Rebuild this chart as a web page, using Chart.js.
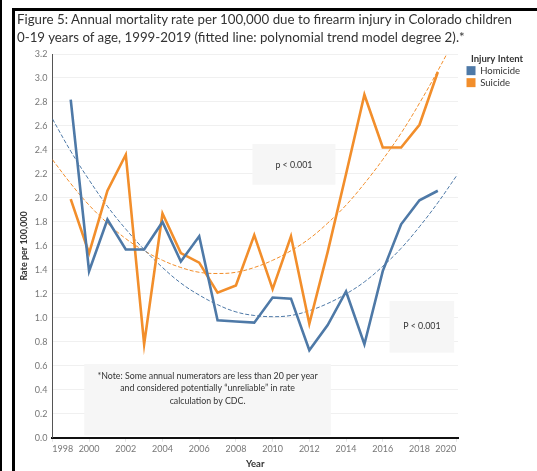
<!DOCTYPE html>
<html>
<head>
<meta charset="utf-8">
<script src="https://cdn.jsdelivr.net/npm/chart.js@4/dist/chart.umd.min.js"></script>
<style>
  body { margin: 0; background: #fff; }
  #wrap { position: relative; width: 537px; height: 471px; overflow: hidden; }
  #chart { position: absolute; left: 0; top: 0; }
  #edge { position: absolute; left: 0; top: 0; width: 2px; height: 471px; background: #000; }
  #frame { position: absolute; left: 12px; top: 8px; width: 540px; height: 480px;
           border-top: 3px solid #000; border-left: 3px solid #000; }
  #title { position: absolute; left: 17px; top: 11px; font: 13.3px Lato, sans-serif;
           color: #333; line-height: 17.5px; white-space: nowrap; }
</style>
</head>
<body>
<div id="wrap">
  <canvas id="chart" width="537" height="471"></canvas>
  <div id="edge"></div>
  <div id="frame"></div>
  <div id="title">Figure 5: Annual mortality rate per 100,000 due to firearm injury in Colorado children<br>0-19 years of age, 1999-2019 (fitted line: polynomial trend model degree 2).*</div>
</div>
<script>
// annual rates per 100,000
const years = [1999, 2000, 2001, 2002, 2003, 2004, 2005, 2006, 2007, 2008, 2009,
               2010, 2011, 2012, 2013, 2014, 2015, 2016, 2017, 2018, 2019];
const homicide = [2.82, 1.39, 1.82, 1.57, 1.57, 1.80, 1.47, 1.68, 0.98, 0.97, 0.96,
                  1.17, 1.16, 0.73, 0.94, 1.22, 0.78, 1.39, 1.78, 1.98, 2.06];
const suicide = [1.99, 1.54, 2.06, 2.36, 0.78, 1.87, 1.54, 1.46, 1.21, 1.27, 1.69,
                 1.24, 1.68, 0.95, 1.55, 2.20, 2.86, 2.42, 2.42, 2.61, 3.05];

// fitted trend lines
const trendYears = [1998, 1999, 2000, 2001, 2002, 2003, 2004, 2005, 2006, 2007, 2008, 2009,
                    2010, 2011, 2012, 2013, 2014, 2015, 2016, 2017, 2018, 2019, 2020];
const homicideTrend = [2.66, 2.39, 2.15, 1.93, 1.74, 1.57, 1.42, 1.29, 1.19, 1.11, 1.05, 1.02,
                       1.01, 1.02, 1.06, 1.12, 1.20, 1.30, 1.43, 1.58, 1.76, 1.96, 2.18];
const suicideTrend = [2.32, 2.12, 1.94, 1.79, 1.66, 1.56, 1.48, 1.42, 1.38, 1.37, 1.38, 1.42,
                      1.48, 1.56, 1.66, 1.79, 1.94, 2.12, 2.32, 2.54, 2.79, 3.06, 3.35];

const xTicks = [1998, 2000, 2002, 2004, 2006, 2008, 2010, 2012, 2014, 2016, 2018, 2020];
const yTicks = [0, 0.2, 0.4, 0.6, 0.8, 1.0, 1.2, 1.4, 1.6, 1.8, 2.0, 2.2, 2.4, 2.6, 2.8, 3.0, 3.2];

const labels = ['Homicide', 'Suicide'];
const blue = '#4e79a7';
const orange = '#f28e2b';

function pts(xs, ys) {
    return xs.map((x, i) => ({ x: x, y: ys[i] }));
}

// grey text boxes placed in data units
const notes = [
    { x0: 2008.9, x1: 2013.42, y0: 2.45, y1: 2.11, ty: 2.27, lines: ['p < 0.001'] },
    { x0: 2016.37, x1: 2019.89, y0: 1.14, y1: 0.71, ty: 0.93, lines: ['P < 0.001'] },
    { x0: 1999.74, x1: 2013.17, y0: 0.616, y1: 0.02, ty: 0.41,
      lines: ['*Note: Some annual numerators are less than 20 per year',
              'and considered potentially \u201cunreliable\u201d in rate',
              'calculation by CDC.'] }
];

const notesPlugin = {
    id: 'notes',
    afterLayout(chart) {
        // nudge the legend a little to the right, like the original
        chart.legend.left += 6;
        chart.legend.right += 6;
    },
    beforeDatasetsDraw(chart) {
        const ctx = chart.ctx;
        const x = chart.scales.x, y = chart.scales.y;
        ctx.save();
        notes.forEach(n => {
            const l = x.getPixelForValue(n.x0), r = x.getPixelForValue(n.x1);
            const t = y.getPixelForValue(n.y0), b = y.getPixelForValue(n.y1);
            ctx.fillStyle = '#f6f6f6';
            ctx.fillRect(l, t, r - l, b - t);
            ctx.fillStyle = '#333';
            ctx.font = '8.8px Lato, sans-serif';
            ctx.textAlign = 'center';
            ctx.textBaseline = 'middle';
            const cy = y.getPixelForValue(n.ty);
            const start = cy - (n.lines.length - 1) * 12.5 / 2;
            n.lines.forEach((s, i) => ctx.fillText(s, (l + r) / 2, start + i * 12.5));
        });
        ctx.restore();
    }
};

new Chart(document.getElementById('chart').getContext('2d'), {
    type: 'line',
    data: {
        datasets: [
            { label: labels[0], data: pts(years, homicide), borderColor: blue, backgroundColor: blue,
              borderWidth: 2.6, pointRadius: 0, tension: 0 },
            { label: labels[1], data: pts(years, suicide), borderColor: orange, backgroundColor: orange,
              borderWidth: 2.6, pointRadius: 0, tension: 0 },
            { label: 'Homicide trend', data: pts(trendYears, homicideTrend), borderColor: blue,
              borderWidth: 1, borderDash: [4, 2], pointRadius: 0, tension: 0.4 },
            { label: 'Suicide trend', data: pts(trendYears, suicideTrend), borderColor: orange,
              borderWidth: 1, borderDash: [4, 2], pointRadius: 0, tension: 0.4 }
        ]
    },
    options: {
        responsive: false,
        animation: false,
        devicePixelRatio: 1,
        layout: { padding: { left: 19, right: 13, top: 54, bottom: 1 } },
        plugins: {
            tooltip: { enabled: false },
            legend: {
                position: 'right',
                align: 'start',
                title: { display: true, text: 'Injury Intent', color: '#333',
                         font: { family: 'Lato', size: 9.5, weight: 'bold' }, padding: { top: 0, bottom: -2 } },
                labels: {
                    color: '#333',
                    font: { family: 'Lato', size: 9.5, lineHeight: 1 },
                    boxWidth: 9,
                    boxHeight: 9,
                    padding: 2.5,
                    generateLabels(chart) {
                        return Chart.defaults.plugins.legend.labels.generateLabels(chart)
                            .filter(item => item.datasetIndex < 2)
                            .map(item => Object.assign(item, { lineWidth: 0 }));
                    }
                }
            }
        },
        scales: {
            x: {
                type: 'linear',
                min: 1998,
                max: 2020.1,
                afterBuildTicks: scale => { scale.ticks = xTicks.map(v => ({ value: v })); },
                ticks: { color: '#777', font: { family: 'Lato', size: 9 }, align: 'inner',
                         padding: 2, maxRotation: 0, callback: v => String(v) },
                grid: { display: true, drawOnChartArea: false, tickLength: 4, color: '#e6e6e6' },
                border: { color: '#111', width: 2 },
                title: { display: true, text: 'Year', color: '#333',
                         font: { family: 'Lato', size: 9.5, weight: 'bold' }, padding: { top: 2, bottom: 0 } }
            },
            y: {
                min: 0,
                max: 3.2,
                afterBuildTicks: scale => { scale.ticks = yTicks.map(v => ({ value: v })); },
                ticks: { color: '#777', font: { family: 'Lato', size: 9 }, padding: 5,
                         callback: v => v.toFixed(1) },
                grid: { color: '#f0f0f0', drawTicks: false },
                border: { color: '#555', width: 1 },
                title: { display: true, text: 'Rate per 100,000', color: '#333',
                         font: { family: 'Lato', size: 9, weight: 'bold' }, padding: { top: 0, bottom: 0 } }
            }
        }
    },
    plugins: [notesPlugin]
});
</script>
</body>
</html>
